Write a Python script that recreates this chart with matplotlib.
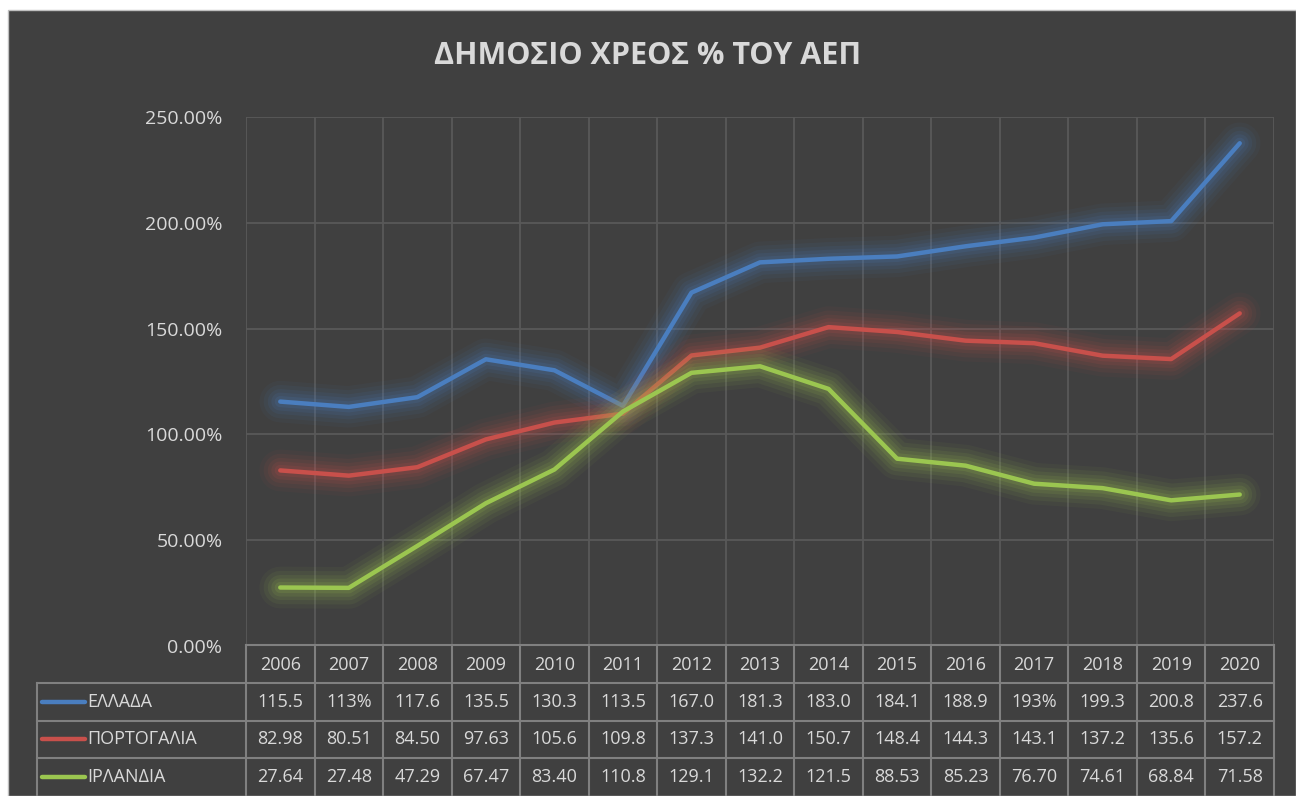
import matplotlib
matplotlib.use("Agg")
import matplotlib.pyplot as plt
import matplotlib.patheffects as pe
from matplotlib.patches import Rectangle
from matplotlib.ticker import FuncFormatter

plt.rcParams['font.family'] = ['Open Sans', 'DejaVu Sans']

years = ["2006", "2007", "2008", "2009", "2010", "2011", "2012", "2013",
         "2014", "2015", "2016", "2017", "2018", "2019", "2020"]
series_names = ["ΕΛΛΑΔΑ", "ΠΟΡΤΟΓΑΛΙΑ", "ΙΡΛΑΝΔΙΑ"]
greece = [115.5, 113.0, 117.6, 135.5, 130.3, 113.5, 167.0, 181.3, 183.0,
          184.1, 188.9, 193.0, 199.3, 200.8, 237.6]
portugal = [82.98, 80.51, 84.50, 97.63, 105.6, 109.8, 137.3, 141.0, 150.7,
            148.4, 144.3, 143.1, 137.2, 135.6, 157.2]
ireland = [27.64, 27.48, 47.29, 67.47, 83.40, 110.8, 129.1, 132.2, 121.5,
           88.53, 85.23, 76.70, 74.61, 68.84, 71.58]
greece_labels = ["115.5", "113%", "117.6", "135.5", "130.3", "113.5", "167.0",
                 "181.3", "183.0", "184.1", "188.9", "193%", "199.3", "200.8", "237.6"]
portugal_labels = ["82.98", "80.51", "84.50", "97.63", "105.6", "109.8", "137.3",
                   "141.0", "150.7", "148.4", "144.3", "143.1", "137.2", "135.6", "157.2"]
ireland_labels = ["27.64", "27.48", "47.29", "67.47", "83.40", "110.8", "129.1",
                  "132.2", "121.5", "88.53", "85.23", "76.70", "74.61", "68.84", "71.58"]
title = "ΔΗΜΟΣΙΟ ΧΡΕΟΣ % ΤΟΥ ΑΕΠ"

colors = ["#4A7EBF", "#C8504B", "#9BC650"]
BG = "#404040"
TXT = "#D9D9D9"
GRID = "#595959"
TLINE = "#808080"

W, H = 1296, 796
fig = plt.figure(figsize=(W / 100, H / 100), dpi=100, facecolor="white")
fig.patches.append(Rectangle((8 / W, 0), 1 - 8 / W, 1 - 10 / H, transform=fig.transFigure,
                             facecolor=BG, edgecolor="#BFBFBF", lw=1, zorder=-10))

# main axes
x0, x1 = 246, 1274
ytop, ybot = 117, 646
ax = fig.add_axes([x0 / W, (H - ybot) / H, (x1 - x0) / W, (ybot - ytop) / H])
ax.patch.set_alpha(0)
xs = list(range(len(years)))
ax.set_xlim(-0.5, len(years) - 0.5)
ax.set_ylim(0, 250)
ax.set_yticks([0, 50, 100, 150, 200, 250])
ax.yaxis.set_major_formatter(FuncFormatter(lambda v, p: f"{v:.2f}%"))
ax.tick_params(axis='y', length=0, pad=17, labelsize=14, labelcolor=TXT)
ax.set_xticks([])
for v in [50, 100, 150, 200, 250]:
    ax.axhline(v, color=GRID, lw=1.3, zorder=1)
for i in range(len(years) + 1):
    ax.axvline(i - 0.5, color=GRID, lw=1.3, zorder=1)
for s in ax.spines.values():
    s.set_visible(False)

for vals, c in zip([greece, portugal, ireland], colors):
    glow = [pe.Stroke(linewidth=w, foreground=c, alpha=a) for w, a in
            [(30, 0.05), (24, 0.07), (18, 0.09), (13, 0.11), (8, 0.14)]]
    ax.plot(xs, vals, color=c, lw=3.2, solid_joinstyle='round', solid_capstyle='round',
            zorder=3, path_effects=glow + [pe.Normal()])

fig.text(0.5, 1 - 56 / H, title, ha='center', va='center', fontsize=22,
         fontweight='bold', color=TXT)

# data table axes
tleft = 37
tax = fig.add_axes([tleft / W, 0, (x1 - tleft) / W, (H - 645) / H])
tax.patch.set_alpha(0)
colw = (x1 - x0) / len(years)
lx = -0.5 - (x0 - tleft) / colw
tax.set_xlim(lx, len(years) - 0.5)
tax.set_ylim(4, 0)
tax.axis('off')
tax.plot([-0.5, len(years) - 0.5], [0, 0], color=TLINE, lw=1.5, clip_on=False)
for r in [1, 2, 3]:
    tax.plot([lx, len(years) - 0.5], [r, r], color=TLINE, lw=1.5, clip_on=False)
tax.plot([lx, lx], [1, 4], color=TLINE, lw=1.5, clip_on=False)
for i in range(len(years) + 1):
    tax.plot([i - 0.5, i - 0.5], [0, 4], color=TLINE, lw=1.5, clip_on=False)
for i, y in enumerate(years):
    tax.text(i, 0.52, y, ha='center', va='center', fontsize=13, color=TXT)
rows = [greece_labels, portugal_labels, ireland_labels]
for r, (name, labs, c) in enumerate(zip(series_names, rows, colors)):
    yy = r + 1.5
    tax.plot([lx + 5 / colw, lx + 48 / colw], [yy, yy], color=c, lw=3.2,
             solid_capstyle='round', clip_on=False)
    tax.text(lx + 50 / colw, yy, name, ha='left', va='center', fontsize=13, color=TXT)
    for i, lab in enumerate(labs):
        tax.text(i, yy, lab, ha='center', va='center', fontsize=13, color=TXT)

fig.savefig("out.png", dpi=100, facecolor=fig.get_facecolor())
